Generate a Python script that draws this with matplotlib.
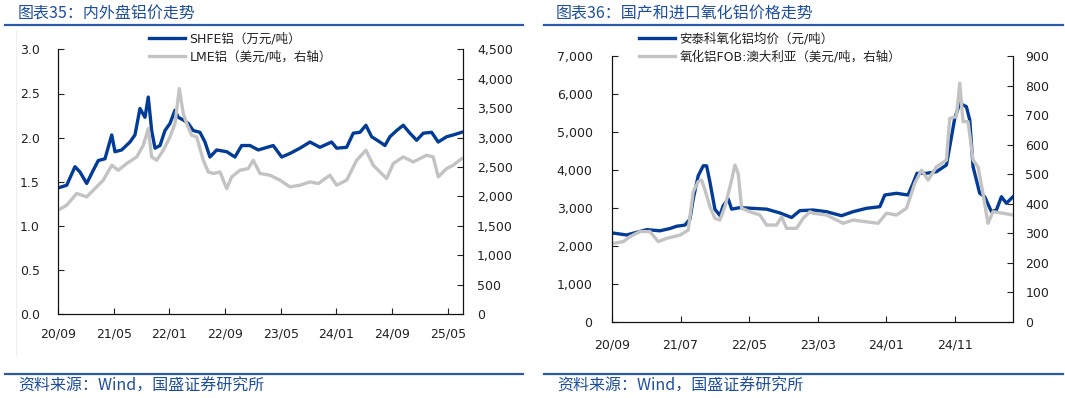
import matplotlib
matplotlib.use("Agg")
import matplotlib.pyplot as plt
from matplotlib.ticker import FuncFormatter
from matplotlib.lines import Line2D

plt.rcParams['font.family'] = ['DejaVu Sans', 'Noto Sans CJK SC']

# ---------------- data: left chart (months since 2020-09) ----------------
shfe_m = [0.04, 1.25, 2.44, 3.16, 4.12, 5.07, 5.79, 6.75, 7.72, 8.19, 9.15, 10.34, 11.06,
          11.78, 12.5, 12.97, 13.46, 13.94, 14.66, 15.37, 16.09, 16.81, 17.28, 18.0, 18.72,
          19.44, 20.4, 21.12, 21.84, 22.8, 24.24, 25.43, 26.39, 27.59, 28.78, 30.93, 32.14,
          33.33, 34.77, 36.21, 37.64, 39.32, 40.04, 41.48, 42.43, 43.39, 44.25, 45.07, 46.26,
          46.98, 47.7, 48.66, 49.61, 50.57, 51.54, 52.49, 53.69, 54.64, 55.85, 56.8, 58.0]
shfe_v = [1.43, 1.46, 1.67, 1.61, 1.48, 1.63, 1.74, 1.76, 2.03, 1.84, 1.86, 1.95, 2.03,
          2.33, 2.23, 2.46, 2.08, 1.88, 1.91, 2.08, 2.16, 2.31, 2.23, 2.20, 2.16,
          2.08, 2.06, 1.95, 1.78, 1.86, 1.84, 1.78, 1.91, 1.91, 1.86, 1.91, 1.78,
          1.82, 1.88, 1.95, 1.89, 1.95, 1.88, 1.89, 2.05, 2.06, 2.14, 2.01, 1.95,
          1.91, 2.01, 2.08, 2.14, 2.05, 1.97, 2.05, 2.06, 1.95, 2.01, 2.03, 2.06]

lme_m = [0.04, 1.25, 2.69, 4.12, 5.07, 6.51, 7.72, 8.66, 9.87, 11.31, 12.26, 12.97, 13.46,
         14.18, 15.13, 16.09, 16.81, 17.43, 18.0, 18.49, 19.21, 19.93, 20.88, 21.6, 22.31,
         23.28, 24.24, 24.96, 26.15, 27.34, 28.06, 29.02, 30.46, 31.9, 33.33, 34.77, 36.21,
         37.4, 39.08, 40.04, 41.48, 42.92, 44.25, 45.3, 46.26, 47.23, 48.18, 49.61, 51.05,
         52.97, 53.92, 54.64, 55.85, 56.8, 58.0]
lme_v = [1766, 1851, 2050, 1992, 2106, 2276, 2530, 2445, 2559, 2671, 2870, 3153, 2671,
         2615, 2785, 3011, 3238, 3833, 3408, 3238, 3040, 3011, 2615, 2416, 2389,
         2416, 2134, 2332, 2445, 2474, 2615, 2390, 2360, 2276, 2162, 2190, 2247,
         2219, 2360, 2190, 2276, 2615, 2785, 2530, 2416, 2304, 2559, 2671, 2586,
         2700, 2671, 2332, 2474, 2530, 2643]

left_ticks = [0, 8, 16, 24, 32, 40, 48, 56]
left_labels = ["20/09", "21/05", "22/01", "22/09", "23/05", "24/01", "24/09", "25/05"]

# ---------------- data: right chart (months since 2020-09) ----------------
ant_m = [0.19, 2.14, 3.6, 5.06, 7.0, 8.45, 9.43, 10.64, 11.37, 11.85, 12.58, 13.31, 13.8,
         14.29, 15.01, 15.74, 16.22, 16.95, 17.45, 18.66, 20.6, 22.55, 24.49, 26.2, 27.41,
         29.34, 31.3, 33.48, 35.17, 37.13, 39.07, 39.8, 41.5, 43.19, 43.92, 44.5, 45.87,
         47.33, 48.79, 49.27, 50.0, 50.73, 51.7, 52.19, 52.67, 53.16, 53.64, 54.37, 55.35,
         56.08, 56.81, 57.54, 58.5]
ant_v = [2340, 2290, 2360, 2430, 2400, 2460, 2520, 2550, 2710, 3240, 3850, 4110, 4110,
         3680, 2970, 2800, 3060, 3240, 2970, 3010, 2990, 2970, 2870, 2750, 2930,
         2947, 2903, 2797, 2903, 2992, 3034, 3342, 3387, 3342, 3650, 3913, 3913,
         3955, 4132, 4613, 5360, 5755, 5666, 5316, 4087, 3737, 3387, 3297, 2903,
         2947, 3297, 3124, 3297]

fob_m = [0.19, 1.65, 2.62, 4.08, 5.54, 6.75, 7.97, 9.91, 11.12, 11.85, 12.58, 13.08, 13.56,
         14.29, 15.01, 15.74, 16.47, 17.45, 17.93, 18.41, 18.91, 20.12, 21.57, 22.55, 24.0,
         24.74, 25.47, 26.92, 27.89, 28.86, 29.34, 31.3, 33.72, 35.17, 37.13, 38.82, 40.04,
         41.5, 42.96, 44.17, 45.15, 46.11, 47.33, 48.79, 49.27, 50.25, 50.73, 51.21, 51.94,
         52.67, 53.4, 54.12, 54.85, 55.58, 57.04, 58.5]
fob_v = [266, 272, 289, 306, 306, 272, 283, 294, 311, 441, 475, 480, 447,
         390, 351, 345, 390, 480, 531, 503, 385, 373, 362, 328, 328,
         356, 317, 317, 351, 373, 368, 362, 334, 345, 339, 334, 368,
         362, 385, 469, 514, 480, 525, 548, 689, 695, 808, 678, 678,
         548, 525, 435, 334, 373, 368, 362]

right_ticks = [0, 10, 20, 30, 40, 50]
right_labels = ["20/09", "21/07", "22/05", "23/03", "24/01", "24/11"]

# ---------------- styling ----------------
BLUE = "#033C96"
GRAY = "#C3C3C3"
TITLE_BLUE = "#1E4E9C"
RULE = "#2A5AA8"
TXT = "#222222"
CJK = ['Noto Sans CJK SC', 'DejaVu Sans']

W, H = 1065, 398
fig = plt.figure(figsize=(W / 100, H / 100), dpi=100)


def box(l, t, r, b):
    return [l / W, 1 - b / H, (r - l) / W, (b - t) / H]


def style_axes(ax, ax2, lpad, rpad, xpad):
    for a in (ax, ax2):
        a.spines['top'].set_visible(False)
        for s in ('left', 'right', 'bottom'):
            a.spines[s].set_linewidth(0.8)
            a.spines[s].set_color('#111111')
        a.tick_params(direction='in', length=4, width=0.8, labelsize=9, colors=TXT)
    ax.tick_params(axis='y', pad=lpad)
    ax2.tick_params(axis='y', pad=rpad)
    ax.tick_params(axis='x', pad=xpad)


LEG = dict(loc='upper left', frameon=False,
           prop={'family': ['DejaVu Sans', 'Noto Sans CJK SC'], 'size': 9},
           handlelength=2.9, handletextpad=0.35, labelspacing=0.45, borderpad=0,
           borderaxespad=0, labelcolor=TXT)

# ---------------- left chart ----------------
ax1 = fig.add_axes(box(58, 49.4, 463, 314))
ax1b = ax1.twinx()
ax1.plot(shfe_m, shfe_v, color=BLUE, lw=2.4, solid_joinstyle='round')
ax1b.plot(lme_m, lme_v, color=GRAY, lw=2.4, solid_joinstyle='round')
ax1.set_xlim(0, 58.2)
ax1.set_ylim(0, 3.0)
ax1.set_yticks([0, 0.5, 1.0, 1.5, 2.0, 2.5, 3.0])
ax1.yaxis.set_major_formatter(FuncFormatter(lambda v, p: f"{v:.1f}"))
ax1b.set_ylim(0, 4500)
ax1b.set_yticks(range(0, 4501, 500))
ax1b.yaxis.set_major_formatter(FuncFormatter(lambda v, p: f"{int(v):,}"))
ax1.set_xticks(left_ticks)
ax1.set_xticklabels(left_labels)
style_axes(ax1, ax1b, 13, 10, 10)

h1 = [Line2D([], [], color=BLUE, lw=2.4), Line2D([], [], color=GRAY, lw=2.4)]
fig.legend(h1, ["SHFE铝（万元/吨）", "LME铝（美元/吨，右轴）"],
           bbox_to_anchor=(149 / W, 1 - 32 / H), **LEG)

# ---------------- right chart ----------------
ax2 = fig.add_axes(box(612, 56, 1013, 322))
ax2b = ax2.twinx()
ax2.plot(ant_m, ant_v, color=BLUE, lw=2.4, solid_joinstyle='round')
ax2b.plot(fob_m, fob_v, color=GRAY, lw=2.4, solid_joinstyle='round')
ax2.set_xlim(0, 58.5)
ax2.set_ylim(0, 7000)
ax2.set_yticks(range(0, 7001, 1000))
ax2.yaxis.set_major_formatter(FuncFormatter(lambda v, p: f"{int(v):,}"))
ax2b.set_ylim(0, 900)
ax2b.set_yticks(range(0, 901, 100))
ax2.set_xticks(right_ticks)
ax2.set_xticklabels(right_labels)
style_axes(ax2, ax2b, 14, 9, 12)

fig.legend(h1, ["安泰科氧化铝均价（元/吨）", "氧化铝FOB:澳大利亚（美元/吨，右轴）"],
           bbox_to_anchor=(639 / W, 1 - 32 / H), **LEG)

# ---------------- titles, rules, footers ----------------
TKW = dict(color=TITLE_BLUE, fontsize=11.5, style='italic', family=CJK, va='center', ha='left')
fig.text(18 / W, 1 - 14 / H, "图表35：内外盘铝价走势", **TKW)
fig.text(556 / W, 1 - 14 / H, "图表36：国产和进口氧化铝价格走势", **TKW)
fig.text(18 / W, 1 - 386 / H, "资料来源：Wind，国盛证券研究所", **TKW)
fig.text(557 / W, 1 - 386 / H, "资料来源：Wind，国盛证券研究所", **TKW)

for (x0, x1) in [(5, 523), (544, 1063)]:
    for y in (25, 374):
        fig.add_artist(Line2D([x0 / W, x1 / W], [1 - y / H, 1 - y / H], color=RULE, lw=1.6))

fig.add_artist(Line2D([16 / W, 16 / W], [1 - 30 / H, 1 - 356 / H], color='#EFEFEF', lw=0.8))

fig.savefig("out.png", dpi=100)
